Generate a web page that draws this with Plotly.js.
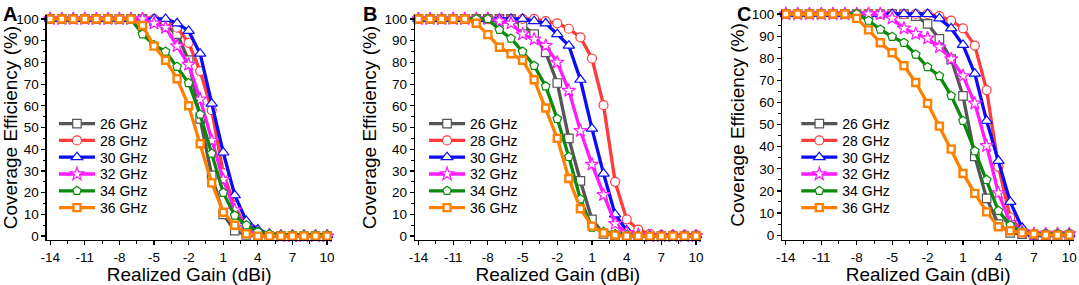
<!DOCTYPE html>
<html>
<head>
<meta charset="utf-8">
<script src="https://cdn.plot.ly/plotly-3.0.1.min.js"></script>
<style>html,body{margin:0;padding:0;background:#fff;}#chart{width:1079px;height:285px;}</style>
</head>
<body>
<div id="chart"></div>
<script>
// Realized gain (dBi) sample points
const gain = [-14,-13,-12,-11,-10,-9,-8,-7,-6,-5,-4,-3,-2,-1,0,1,2,3,4,5,6,7,8,9,10];
const seriesNames = ["26 GHz","28 GHz","30 GHz","32 GHz","34 GHz","36 GHz"];
const xTickVals = [-14,-11,-8,-5,-2,1,4,7,10];
const xTickText = ["-14","-11","-8","-5","-2","1","4","7","10"];
const yTickVals = [0,10,20,30,40,50,60,70,80,90,100];

// Panel A coverage efficiency (%)
const A26 = [100,100,100,100,100,100,100,100,100, 99, 97, 93, 81, 54, 28, 10, 2.5,0.5,0,0,0,0,0,0,0];
const A28 = [100,100,100,100,100,100,100,100,100,100, 99, 96, 89, 76, 58, 29, 14, 4, 1, 0,0,0,0,0,0];
const A30 = [100,100,100,100,100,100,100,100,100,100,100, 98, 94.5,84, 61, 38.5,18.8,7, 3, 1, 0.5,0.5,0.5,0.5,0.5];
const A32 = [100,100,100,100,100,100,100,100,100, 98, 96, 87.5,79, 63, 44, 26, 12, 4, 1, 0.5,0,0,0,0,0];
const A34 = [100,100,100,100,100,100,100,100, 93, 88, 85, 78, 70.5,56, 38, 20, 9.5,5, 2, 1, 0.5,0.5,0.5,0.5,0.5];
const A36 = [100,100,100,100,100,100,100,100, 97, 87.5,81, 72.5,60, 42.5,24.5,11, 5, 1, 0,0,0,0,0,0,0];

// Panel B coverage efficiency (%)
const B26 = [100,100,100,100,100,100,100,100,100, 97, 93, 84.6,70.5,45, 25.4,7.7, 1, 0.5,0,0,0,0,0,0,0];
const B28 = [100,100,100,100,100,100,100,100,100,100,100, 99, 98, 95.5,91.5,81.8,60.3,25, 7.7, 3, 1, 0.5,0.5,0.5,0.5];
const B30 = [100,100,100,100,100,100,100,100,100,100, 99, 98, 93, 87.7,72, 49.5,28.8,10, 2.6,0.5,0.5,0.5,0.5,0.5,0.5];
const B32 = [100,100,100,100,100,100,100, 99, 98, 93, 90.6,87.7,80, 67, 48.5,33, 19, 5.7,1.5,0.5,0,0,0,0,0];
const B34 = [100,100,100,100,100,100,100, 95, 91, 85, 78.5,69, 54, 36.5,17, 4, 2, 1, 0.5,0,0,0,0,0,0];
const B36 = [100,100,100,100,100, 98, 92.8,87, 84, 81, 72, 59, 45, 26.5,12.6,4.6,1.5,0.5,0,0,0,0,0,0,0];

// Panel C coverage efficiency (%)
const C26 = [100,100,100,100,100,100,100,100,100,100,100, 99, 95.5,88.7,79.6,63, 35.6,16.6,5, 1, 0.5,0,0,0,0];
const C28 = [100,100,100,100,100,100,100,100,100,100,100,100,100, 99, 97, 93.5,85.7,65.6,31, 8, 2, 0.5,0.5,0.5,0.5];
const C30 = [100,100,100,100,100,100,100,100,100,100,100,100,100, 98, 93.5,86, 73, 51.7,33.6,15, 3.3,0.5,0.5,0.5,0.5];
const C32 = [100,100,100,100,100,100,100,100,100, 98, 93.5,91, 89, 85, 79.6,72, 59.6,40.4,19, 5.6,1.5,0.5,0.5,0.5,0.5];
const C34 = [100,100,100,100,100,100,100, 97, 93, 89.7,87, 81.7,76, 72, 63, 51.7,38, 25, 11, 4.5,1.5,0.5,0.5,0.5,0.5];
const C36 = [100,100,100,100,100,100, 98, 92.8,87, 82.5,76.6,69, 59.6,49.3,38.9,27.9,18.9,10.5,3.8,2, 1, 0.5,0,0,0];

const colors = ["#555555","#ff3b3b","#0a0aff","#ff1aff","#0a8a0a","#ff8000"];
const symbols = ["square","circle","triangle-up","star","pentagon","square"];
const sizes = [8.5,9,10,10,9,7];
const borders = [1.2,1.2,1.2,1.2,1.2,2.4];

const W = 1079, H = 285, MT = 10, MB = 45;
const PH = H - MT - MB;
const fontFam = "Liberation Sans, Arial, sans-serif";

const panels = [
  {data:[A26,A28,A30,A32,A34,A36], xa:"x",  ya:"y",  legX:0.050},
  {data:[B26,B28,B30,B32,B34,B36], xa:"x2", ya:"y2", legX:0.393},
  {data:[C26,C28,C30,C32,C34,C36], xa:"x3", ya:"y3", legX:0.738}
];

const traces = [];
const legends = {};
let k = 0;
panels.forEach((p)=>{
  p.data.forEach((vals,i)=>{
    const lid = k===0 ? "legend" : "legend"+(k+1);
    const centerPx = 124 + 16.8*i;
    legends[lid] = {x:p.legX, y:1-(centerPx-MT)/PH, xanchor:"left", yanchor:"middle",
      bgcolor:"rgba(0,0,0,0)", borderwidth:0,
      font:{family:fontFam, size:14, color:"#000"}, itemwidth:36};
    traces.push({
      type:"scatter", mode:"lines+markers", cliponaxis:false,
      x:gain, y:vals, name:seriesNames[i],
      xaxis:p.xa, yaxis:p.ya, legend:lid,
      line:{color:colors[i], width:3.3},
      marker:{symbol:symbols[i], size:sizes[i],
              color:"#ffffff", line:{color:colors[i], width:borders[i]}}
    });
    k++;
  });
});

function xax(domain, anchor){
  return {domain:domain, anchor:anchor, range:[-14.3,10.4], tickvals:xTickVals, ticktext:xTickText,
    ticks:"outside", ticklen:4, tickwidth:1.2, tickcolor:"#000",
    minor:{dtick:1.5, tick0:-14, ticks:"outside", ticklen:2.5, tickwidth:1, tickcolor:"#000"},
    showline:true, linecolor:"#000", linewidth:1.3, showgrid:false, zeroline:false,
    tickfont:{family:fontFam, size:13.5, color:"#000"},
    title:{text:"Realized Gain (dBi)", font:{family:fontFam, size:19, color:"#000"}, standoff:2}};
}
function yax(domain, anchor, range){
  return {domain:domain, anchor:anchor, range:range, tickvals:yTickVals,
    ticks:"outside", ticklen:4, tickwidth:1.2, tickcolor:"#000",
    minor:{dtick:5, tick0:0, ticks:"outside", ticklen:2.5, tickwidth:1, tickcolor:"#000"},
    showline:true, linecolor:"#000", linewidth:1.3, showgrid:false, zeroline:false,
    tickfont:{family:fontFam, size:13.5, color:"#000"},
    title:{text:"Coverage Efficiency (%)", font:{family:fontFam, size:19, color:"#000"}, standoff:2}};
}

const layout = Object.assign({
  width:W, height:H,
  margin:{l:0, r:0, t:MT, b:MB},
  paper_bgcolor:"#fff", plot_bgcolor:"#fff",
  showlegend:true,
  xaxis: xax([0.0433,0.3074],"y"),
  yaxis: yax([0,0.978],"x",[-1.8,101.8]),
  xaxis2: xax([0.3846,0.6494],"y2"),
  yaxis2: yax([0,0.978],"x2",[-1.8,101.8]),
  xaxis3: xax([0.725,0.9954],"y3"),
  yaxis3: yax([0,1],"x3",[-2.2,101.8]),
  annotations:[
    {text:"<b>A</b>", xref:"paper", yref:"paper", x:0.001, y:1.037, xanchor:"left", yanchor:"top", showarrow:false, font:{family:fontFam, size:20, color:"#000"}},
    {text:"<b>B</b>", xref:"paper", yref:"paper", x:0.335, y:1.037, xanchor:"left", yanchor:"top", showarrow:false, font:{family:fontFam, size:20, color:"#000"}},
    {text:"<b>C</b>", xref:"paper", yref:"paper", x:0.681, y:1.037, xanchor:"left", yanchor:"top", showarrow:false, font:{family:fontFam, size:20, color:"#000"}}
  ]
}, legends);

Plotly.newPlot("chart", traces, layout, {staticPlot:true, displayModeBar:false});
</script>
</body>
</html>
